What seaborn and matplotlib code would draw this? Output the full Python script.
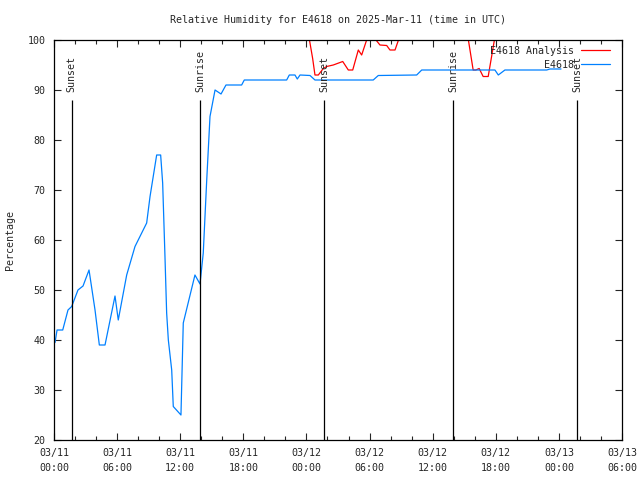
import pandas as pd
import numpy as np
import matplotlib
matplotlib.use('Agg')
import matplotlib.pyplot as plt
import matplotlib.dates as mdates
import seaborn as sns

start = pd.Timestamp('2025-03-11 00:00')

# E4618 observations (hours after 03/11 00:00 UTC, percent)
obs_hours = [0.1, 0.29, 0.83, 1.33, 1.68, 2.28, 2.76, 3.33, 3.9, 4.31, 4.85,
             5.8, 6.11, 6.91, 7.7, 8.81, 9.13, 9.76, 10.14, 10.33, 10.55,
             10.71, 10.87, 11.19, 11.34, 12.07, 12.29, 13.4, 13.88, 14.19,
             14.52, 14.83, 15.31, 15.88, 16.35, 17.84, 18.09, 22.12, 22.37,
             22.91, 23.13, 23.39, 24.34, 24.81, 30.35, 30.83, 34.48, 34.96,
             41.92, 42.24, 42.87, 46.84, 47.15, 48.2]
obs_rh = [39.5, 42, 42, 46, 46.7, 50, 50.8, 54, 46, 39, 39,
          48.8, 44, 53, 58.7, 63.4, 68.7, 77, 77, 71.4, 56.7,
          45.4, 40, 34, 26.7, 25, 43.4, 53, 51.2, 57.4,
          72, 84.7, 90, 89.2, 91, 91, 92, 92, 93,
          93, 92.2, 93, 92.9, 92, 92, 92.9, 93, 94,
          94, 93, 94, 94, 94.2, 94.2]

# E4618 Analysis
ana_hours = [23.96, 24.59, 24.81, 25.13, 25.6, 25.92, 26.55, 27.45, 27.98,
             28.4, 28.93, 29.25, 29.88, 30.42, 30.99, 31.63, 31.94, 32.42,
             33.08, 35.74, 38.6, 39.17, 39.85, 40.1, 40.42, 40.8, 41.28, 42.11]
ana_rh = [104, 96.3, 93, 93, 94.3, 94.7, 95, 95.7, 94,
          94, 98, 97, 101, 100.5, 99, 98.9, 98, 98,
          102, 106, 104, 103, 94, 94, 94.3, 92.7, 92.7, 103]

sun_hours = [1.68, 13.91, 25.7, 37.96, 49.75]
sun_labels = ['Sunset', 'Sunrise', 'Sunset', 'Sunrise', 'Sunset']

obs = pd.DataFrame({'time': start + pd.to_timedelta(obs_hours, unit='h'), 'rh': obs_rh})
ana = pd.DataFrame({'time': start + pd.to_timedelta(ana_hours, unit='h'), 'rh': ana_rh})
sun_times = start + pd.to_timedelta(sun_hours, unit='h')

sns.set_style('white')
plt.rcParams['font.family'] = ['DejaVu Sans Mono']
plt.rcParams['font.size'] = 7.2

fig = plt.figure(figsize=(6.4, 4.8), dpi=100)
ax = fig.add_axes([54 / 640, 40 / 480, 568 / 640, 400 / 480])

sns.lineplot(data=ana, x='time', y='rh', color='#ff0000', lw=0.9, label='E4618 Analysis', ax=ax, sort=False)
sns.lineplot(data=obs, x='time', y='rh', color='#0080ff', lw=0.9, label='E4618', ax=ax, sort=False)

for t, lab in zip(sun_times, sun_labels):
    ax.vlines(t, 20, 88, color='black', lw=0.9)
    ax.text(t, 89.6, lab, rotation=90, ha='center', va='bottom', fontsize=7.2)

ax.set_xlim(start, start + pd.Timedelta(hours=54))
ax.set_ylim(20, 100)
ax.set_yticks(np.arange(20, 101, 10))
ax.xaxis.set_major_locator(mdates.HourLocator(byhour=range(0, 24, 6)))
ax.xaxis.set_minor_locator(mdates.HourLocator(byhour=range(0, 24, 2)))
ax.xaxis.set_major_formatter(mdates.DateFormatter('%m/%d\n%H:%M'))
ax.tick_params(which='major', direction='in', length=5, width=0.8, top=True, right=True,
               bottom=True, left=True, labelsize=7.2)
ax.tick_params(axis='x', which='major', pad=6)
ax.tick_params(axis='y', which='major', pad=6)
ax.tick_params(which='minor', direction='in', length=3, width=0.8, top=True, bottom=True)
for lbl in ax.get_xticklabels():
    lbl.set_linespacing(1.55)
for s in ax.spines.values():
    s.set_color('black')
    s.set_linewidth(0.9)

ax.set_xlabel('')
ax.set_ylabel('Percentage', fontsize=7.2)
ax.yaxis.set_label_coords(-(54 - 15) / 568, 0.5)
ax.set_title('Relative Humidity for E4618 on 2025-Mar-11 (time in UTC)', fontsize=7.2, pad=12)

ax.legend(loc='upper right', bbox_to_anchor=(1 - 12 / 568, 1 - 6 / 400), frameon=False,
          markerfirst=False, borderpad=0, borderaxespad=0, handlelength=2.9,
          handletextpad=0.7, labelspacing=0.4, fontsize=7.2)

fig.savefig('out.png', dpi=100)
